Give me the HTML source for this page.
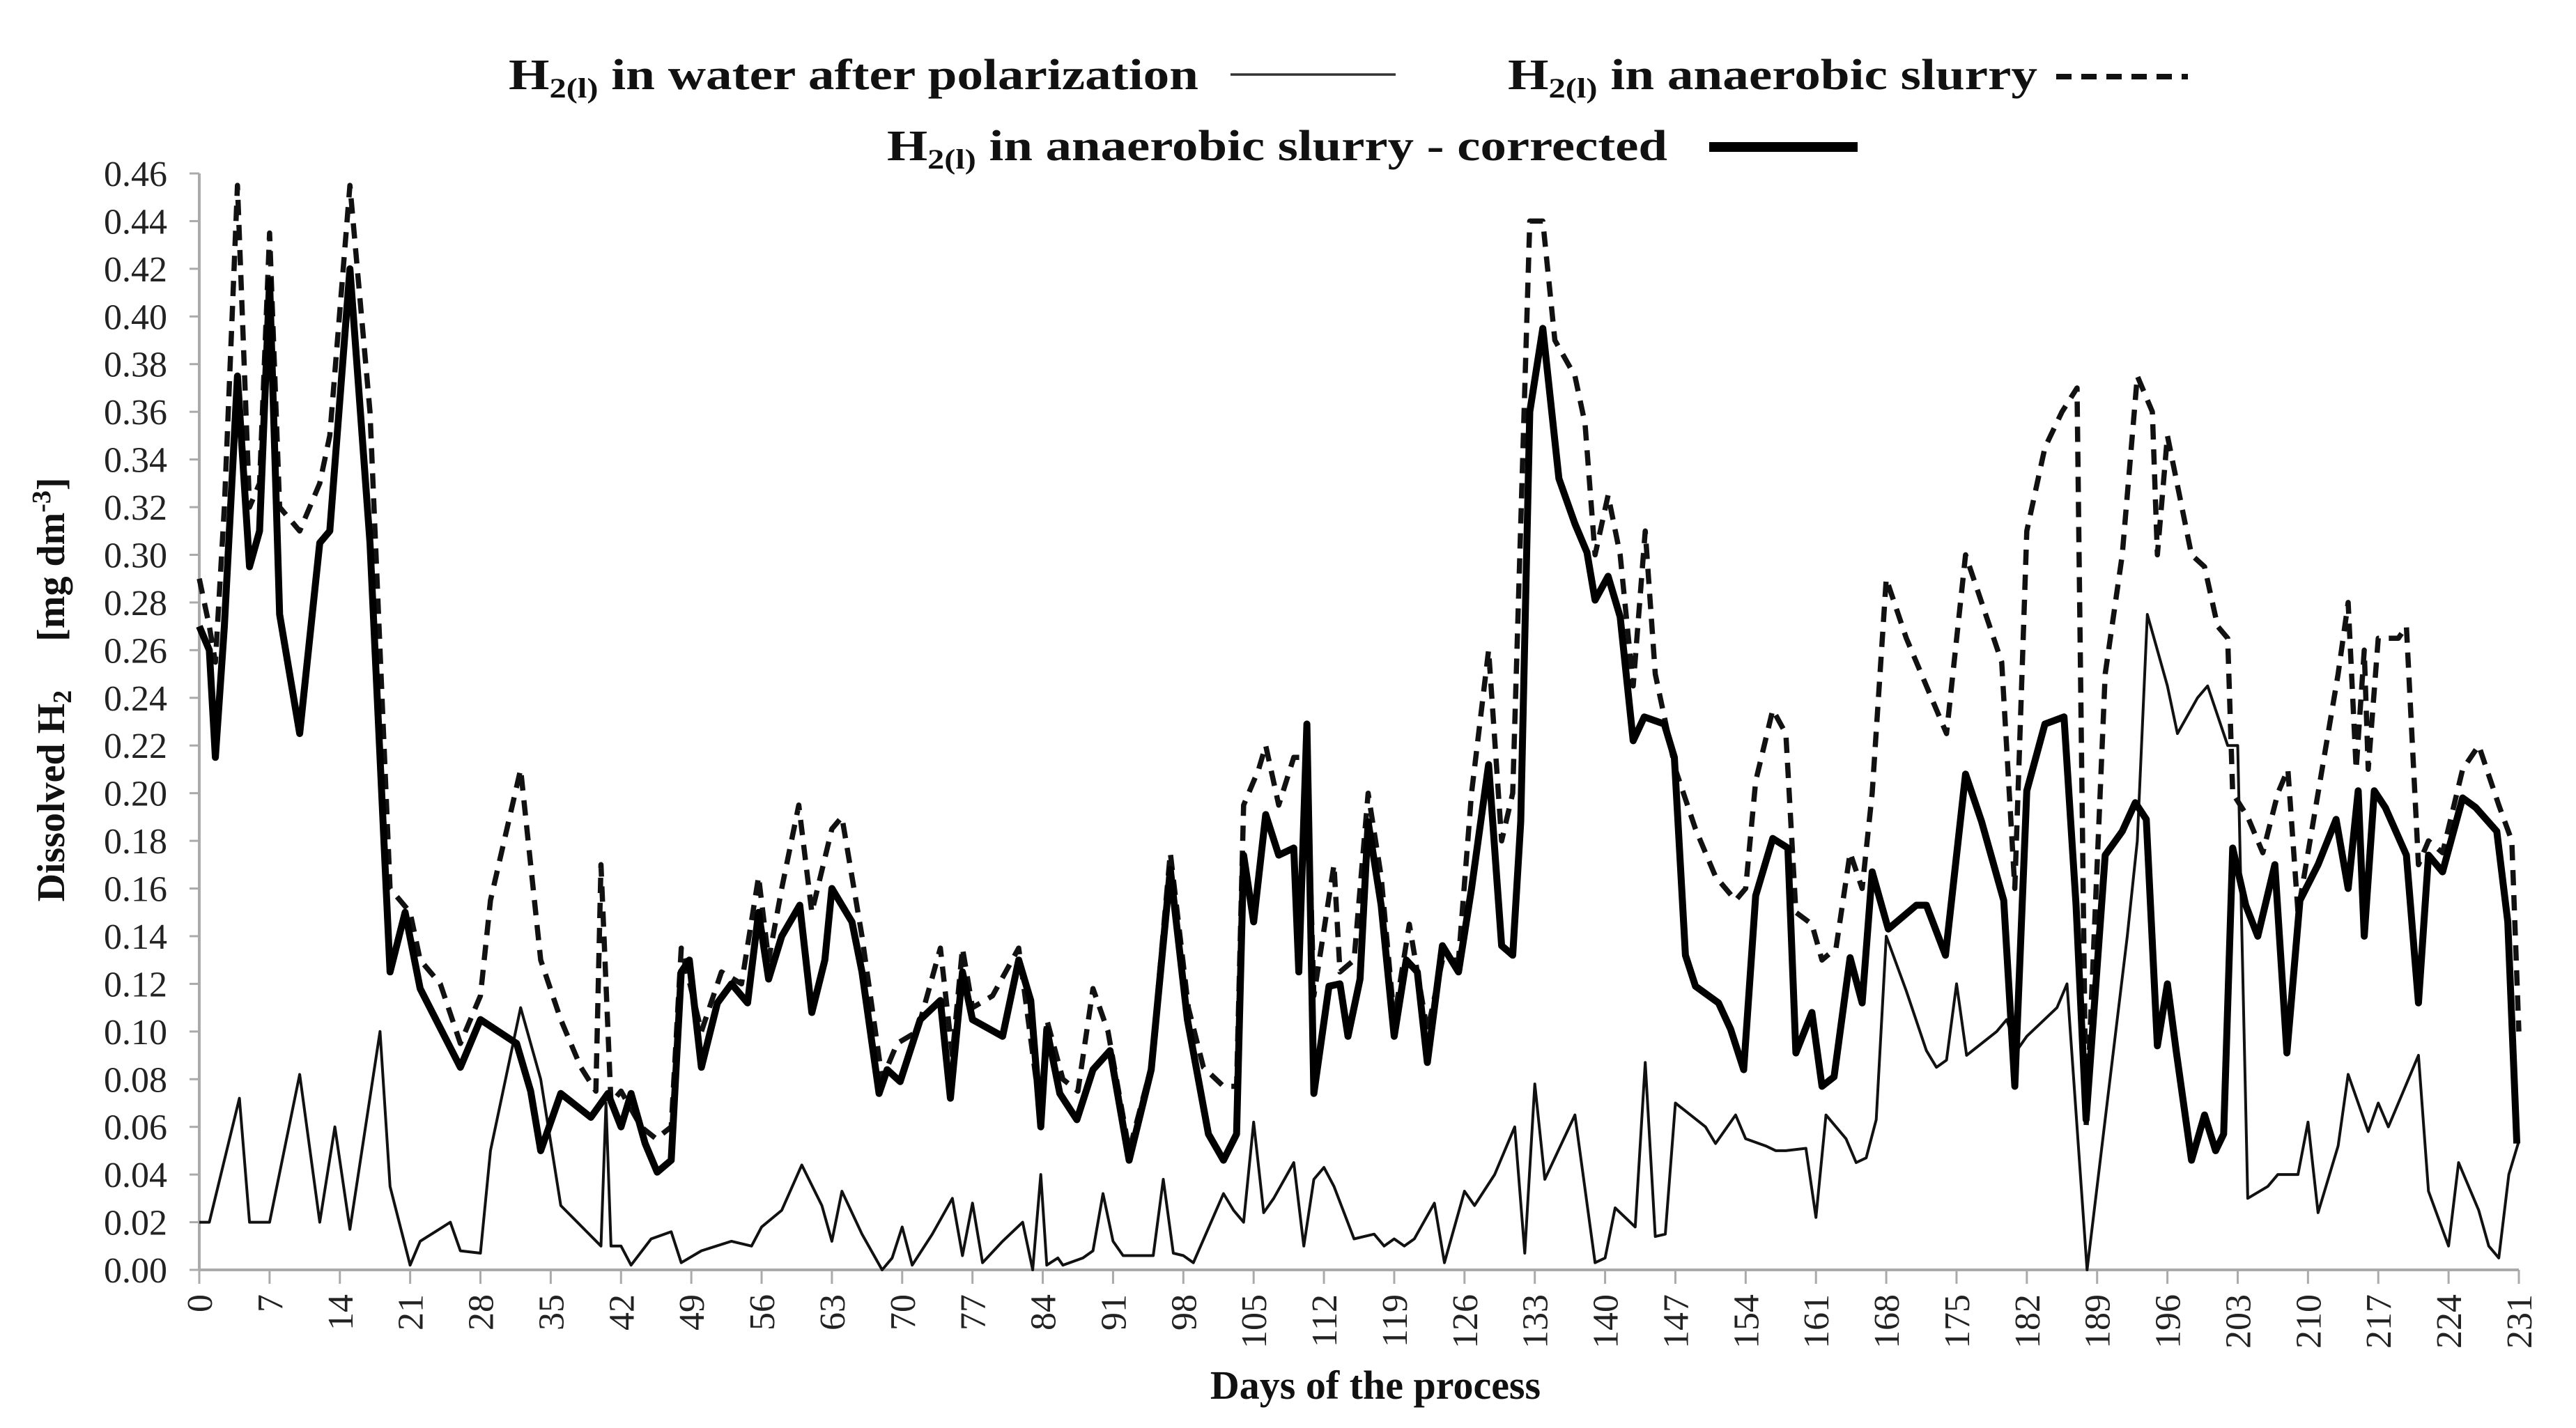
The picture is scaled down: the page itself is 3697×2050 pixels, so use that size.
<!DOCTYPE html>
<html><head><meta charset="utf-8"><style>
html,body{margin:0;padding:0;background:#fff;}
svg{display:block;font-family:"Liberation Serif",serif;}
</style></head><body>
<svg id="chart" width="3697" height="2050" viewBox="0 0 3697 2050" xmlns="http://www.w3.org/2000/svg">
<g id="legend" font-weight="bold" font-size="62" fill="#111">
  <g>
    <text x="730" y="128" textLength="990" lengthAdjust="spacingAndGlyphs">H<tspan font-size="40" dy="12">2(l)</tspan><tspan dy="-12"> in water after polarization</tspan></text>
    <line x1="1766" y1="107" x2="2003" y2="107" stroke="#333" stroke-width="3.5"/>
  </g>
  <g>
    <text x="2164" y="128" textLength="760" lengthAdjust="spacingAndGlyphs">H<tspan font-size="40" dy="12">2(l)</tspan><tspan dy="-12"> in anaerobic slurry</tspan></text>
    <line x1="2951" y1="110" x2="3140" y2="110" stroke="#111" stroke-width="8" stroke-dasharray="22,14"/>
  </g>
  <g>
    <text x="1273" y="230" textLength="1120" lengthAdjust="spacingAndGlyphs">H<tspan font-size="40" dy="12">2(l)</tspan><tspan dy="-12"> in anaerobic slurry - corrected</tspan></text>
    <line x1="2453" y1="211" x2="2666" y2="211" stroke="#000" stroke-width="14"/>
  </g>
</g>
<g id="axes"></g>
<g id="series"></g>
<text x="1974" y="2008" text-anchor="middle" font-weight="bold" font-size="58" fill="#111">Days of the process</text>
<text transform="translate(92,990) rotate(-90)" text-anchor="middle" font-weight="bold" font-size="56" fill="#111">Dissolved H<tspan font-size="38" dy="10">2</tspan><tspan dy="-10" xml:space="preserve">     [mg dm</tspan><tspan font-size="38" dy="-20">-3</tspan><tspan dy="20">]</tspan></text>
</svg>
<script>
const yTicks = [0,0.02,0.04,0.06,0.08,0.10,0.12,0.14,0.16,0.18,0.20,0.22,0.24,0.26,0.28,0.30,0.32,0.34,0.36,0.38,0.40,0.42,0.44,0.46];
const xTicks = [0,7,14,21,28,35,42,49,56,63,70,77,84,91,98,105,112,119,126,133,140,147,154,161,168,175,182,189,196,203,210,217,224,231];

const waterDays = [0,1,4,5,7,10,12,13.5,15,18,19,21,22,25,26,28,29,32,34,36,40,40.5,41,42,43,45,47,48,50,53,55,56,58,60,62,63,64,66,68,69,70,71,73,75,76,77,78,80,82,83,83.8,84.4,85.5,86,88,89,90,91,92,95,96,97,98,99,102,103,104,105,106,107,109,110,111,112,113,115,117,118,119,120,121,123,124,126,127,129,131,132,133,134,137,139,140,141,143,144,145,146,147,150,151,153,154,156,157,158,160,161,162,164,165,166,167,168,170,172,173,174,175,176,179,180,181,182,185,186,188,190,192,193,194,195,196,197,199,200,202,203,204,206,207,209,210,211,213,214,216,217,218,221,222,224,225,227,228,229,230,231];
const waterVals = [.02,.02,.072,.02,.02,.082,.02,.06,.017,.1,.035,.002,.012,.02,.008,.007,.05,.11,.08,.027,.01,.07,.01,.01,.002,.013,.016,.003,.008,.012,.01,.018,.025,.044,.027,.012,.033,.015,0,.005,.018,.002,.015,.03,.006,.028,.003,.012,.02,0,.04,.002,.005,.002,.005,.008,.032,.012,.006,.006,.038,.007,.006,.003,.032,.025,.02,.062,.024,.03,.045,.01,.038,.043,.035,.013,.015,.01,.013,.01,.013,.028,.003,.033,.027,.04,.06,.007,.078,.038,.065,.003,.005,.026,.018,.087,.014,.015,.07,.06,.053,.065,.055,.052,.05,.05,.051,.022,.065,.055,.045,.047,.063,.14,.117,.092,.085,.088,.12,.09,.1,.105,.092,.098,.11,.12,0,.07,.14,.18,.275,.26,.245,.225,.24,.245,.22,.22,.03,.035,.04,.04,.062,.024,.052,.082,.058,.07,.06,.09,.033,.01,.045,.025,.01,.005,.04,.054];

const slurryDays = [0,1,1.6,2.5,3.8,5,6,7,8,10,12,13,15,17,19,21,22,24,26,28,29,32,34,36,38,39.5,40,41,42,44,45.5,47,48,50,52,54,55.7,56.7,58,59.7,61,63,64,66,68,69.5,71.5,73.8,75,76,77,79,81.6,83.8,84.4,86,87.5,89,90.5,92.6,94.8,96.7,98.5,100,102,103.3,104,105.5,106.2,107.5,109,110.3,111,113,113.6,115,116.4,117.7,119,120.5,122.3,123.8,125.4,126.7,128.4,129.7,130.8,132.5,133.8,135,137,138,139,140.3,141.5,142.8,144,145,147,149,151,153,154,155,156.7,158,159,160.6,161.6,163,164.4,165.6,166.6,168,170,172,174,175.9,177.5,179.5,180.8,182,183.8,185.5,187,187.9,189.8,191.5,193,194.5,195,196,198.4,199.7,201,202,202.5,204,205.5,207,208,209,211,213,214,214.8,215.6,216,217,219,219.8,221,222,223.4,225.4,227,229,230.3,231];
const slurryVals = [.29,.27,.255,.32,.455,.32,.33,.435,.32,.31,.33,.35,.455,.36,.16,.15,.13,.12,.095,.115,.155,.21,.13,.105,.085,.075,.17,.07,.075,.06,.055,.06,.135,.1,.125,.12,.165,.13,.16,.195,.15,.185,.19,.14,.08,.095,.1,.135,.09,.135,.11,.115,.135,.065,.105,.08,.075,.118,.1,.05,.085,.175,.11,.085,.077,.077,.195,.21,.22,.195,.215,.215,.115,.17,.125,.13,.2,.165,.105,.145,.1,.13,.13,.2,.26,.18,.2,.44,.44,.39,.375,.355,.3,.325,.3,.245,.31,.25,.21,.185,.165,.155,.16,.205,.235,.225,.15,.145,.13,.135,.175,.16,.2,.29,.265,.245,.225,.3,.28,.255,.16,.31,.345,.36,.37,.06,.25,.3,.375,.36,.3,.35,.3,.295,.27,.265,.2,.19,.175,.2,.21,.15,.2,.25,.28,.21,.26,.21,.265,.265,.27,.17,.18,.175,.21,.22,.195,.18,.1];

const corrDays = [0,1,1.6,2.5,3.8,5,6,7,8,10,12,13,15,17,19,20.5,22,26,28,31.6,33,34,36,39,40.7,42,43,44.4,45.6,47,48,48.8,50,51.6,53,54.6,55.7,56.7,58,59.8,61,62.3,63,65,66,67.7,68.5,69.8,71.8,73.8,74.8,76,77,80,81.6,82.8,83.8,84.4,85.7,87.4,89,90.7,92.6,94.8,96.7,98.4,100.5,102,103.3,104,105,106.2,107.5,109,109.5,110.3,111,112.5,113.6,114.4,115.6,116.4,117.7,119,120.2,121.3,122.3,123.8,125.4,126.7,128.4,129.7,130.8,131.6,132.5,133.8,135.4,137,138.2,139,140.3,141.5,142.8,143.9,145.9,146.9,148,149,151.3,152.5,153.8,155,156.7,158.2,159,160.6,161.6,162.8,164.4,165.6,166.6,168.2,171,172,173.9,175.9,177.5,179.7,180.8,182,183.8,185.7,186.9,187.9,189.8,191.5,192.8,193.9,195,196,196.9,198.4,199.7,200.8,201.6,202.5,203.8,205,206.7,207.9,209.2,211,212.8,214,215,215.6,216.6,217.7,219.8,221,222,223.4,225.4,226.7,228.8,229.9,230.8];
const corrVals = [.27,.26,.215,.27,.375,.295,.31,.415,.275,.225,.305,.31,.42,.305,.125,.15,.118,.085,.105,.095,.075,.05,.074,.064,.074,.06,.074,.053,.041,.046,.125,.13,.085,.112,.12,.112,.15,.122,.14,.153,.108,.13,.16,.146,.125,.074,.084,.079,.105,.113,.072,.125,.105,.098,.13,.113,.06,.101,.074,.063,.084,.092,.046,.084,.168,.105,.057,.046,.057,.174,.146,.191,.174,.177,.125,.229,.074,.119,.12,.098,.122,.188,.153,.098,.13,.125,.087,.136,.125,.16,.212,.136,.132,.188,.36,.395,.332,.313,.301,.281,.291,.274,.222,.232,.229,.215,.132,.119,.112,.101,.084,.157,.181,.177,.091,.108,.077,.081,.131,.112,.167,.143,.153,.153,.132,.208,.188,.155,.077,.201,.229,.232,.153,.063,.174,.184,.196,.189,.094,.12,.091,.046,.065,.05,.057,.177,.153,.14,.17,.091,.155,.17,.189,.16,.201,.14,.201,.194,.174,.112,.174,.167,.198,.194,.184,.146,.053];

const X0 = 286, X1 = 3615, Y0 = 1823, Y1 = 249;
const xScale = d => X0 + d / 231 * (X1 - X0);
const yScale = v => Y0 - v / 0.46 * (Y0 - Y1);
const NS = 'http://www.w3.org/2000/svg';
const axes = document.getElementById('axes');
const series = document.getElementById('series');

function mk(tag, attrs, parent) {
  const e = document.createElementNS(NS, tag);
  for (const k in attrs) e.setAttribute(k, attrs[k]);
  parent.appendChild(e);
  return e;
}

let yAxis = mk('line', {x1: X0, y1: Y1, x2: X0, y2: Y0, stroke: '#aaa', 'stroke-width': 4}, axes);


let xAxis = mk('line', {x1: X0, y1: Y0, x2: X1, y2: Y0, stroke: '#aaa', 'stroke-width': 4}, axes);



yTicks.forEach(v => {
  const y = yScale(v);
  const t = mk('line', {x1: X0 - 14, y1: y, x2: X0, y2: y, stroke: '#aaa', 'stroke-width': 3}, axes);
  
  
  const l = mk('text', {x: 240, y: y + 18, 'text-anchor': 'end', 'font-size': 52, fill: '#222'}, axes);
  
  
  l.textContent = v.toFixed(2);
});
xTicks.forEach(d => {
  const x = xScale(d);
  const t = mk('line', {x1: x, y1: Y0, x2: x, y2: Y0 + 20, stroke: '#aaa', 'stroke-width': 3}, axes);
  
  
  const l = mk('text', {transform: `translate(${x + 18},1858) rotate(-90)`, 'text-anchor': 'end', 'font-size': 52, fill: '#222'}, axes);
  
  
  l.textContent = d;
});

function path(days, vals) {
  return days.map((d, i) => (i ? 'L' : 'M') + xScale(d).toFixed(1) + ',' + yScale(vals[i]).toFixed(1)).join(' ');
}
const pw = mk('path', {d: path(waterDays, waterVals), fill: 'none', stroke: '#111', 'stroke-width': 4, 'stroke-linejoin': 'round'}, series);


const ps = mk('path', {d: path(slurryDays, slurryVals), fill: 'none', stroke: '#111', 'stroke-width': 7.5, 'stroke-dasharray': '22,14', 'stroke-linejoin': 'round'}, series);


const pc = mk('path', {d: path(corrDays, corrVals), fill: 'none', stroke: '#000', 'stroke-width': 10, 'stroke-linejoin': 'round'}, series);


</script>
</body></html>
